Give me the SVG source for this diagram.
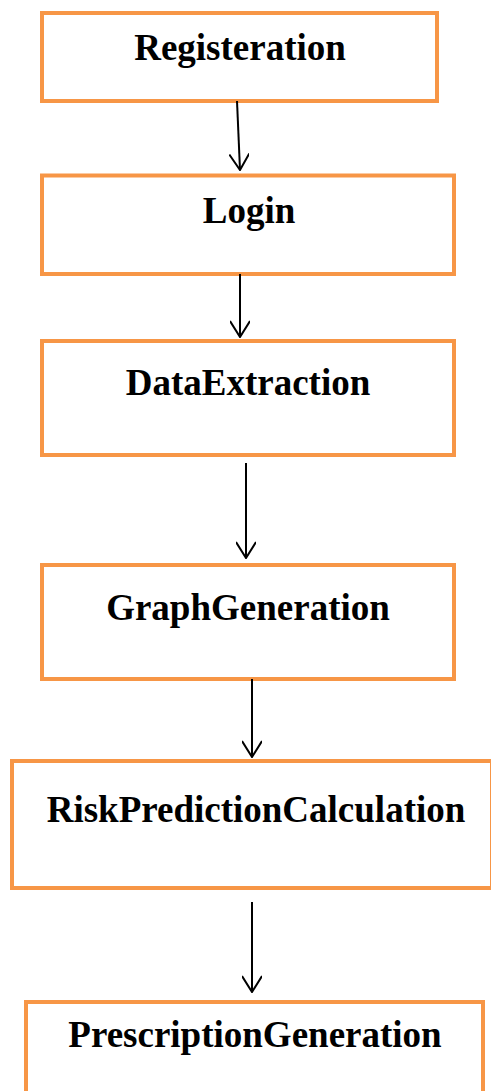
<svg xmlns="http://www.w3.org/2000/svg" width="491" height="1091" viewBox="0 0 491 1091">
<style>
.box{fill:#fff;stroke:#F79646;stroke-width:4}
.lbl{font-family:"Liberation Serif","Times New Roman",serif;font-weight:bold;font-size:37px;fill:#000;text-anchor:middle}
.con{stroke:#000;stroke-width:2;fill:none}
</style>
<defs>
<marker id="arr" viewBox="0 0 18 20" refX="17" refY="10" markerWidth="18" markerHeight="20" markerUnits="userSpaceOnUse" orient="auto">
<path d="M1,0 L17,10 L1,20" fill="none" stroke="#000" stroke-width="2"/>
</marker>
</defs>
<rect width="491" height="1091" fill="#fff"/>
<g id="n1"><rect class="box" x="42" y="13" width="395" height="88"/><text class="lbl" x="240" y="60">Registeration</text></g>
<g id="n2"><rect class="box" x="42" y="175.5" width="412" height="98.5"/><text class="lbl" x="249" y="223">Login</text></g>
<g id="n3"><rect class="box" x="42" y="341" width="412" height="114"/><text class="lbl" x="248" y="395">DataExtraction</text></g>
<g id="n4"><rect class="box" x="42" y="565" width="412" height="114"/><text class="lbl" x="248" y="620">GraphGeneration</text></g>
<g id="n5"><rect class="box" x="12" y="761" width="480" height="127"/><text class="lbl" x="256" y="822">RiskPredictionCalculation</text></g>
<g id="n6"><rect class="box" x="26" y="1002" width="457" height="100"/><text class="lbl" x="255" y="1047">PrescriptionGeneration</text></g>
<g id="connectors">
<path class="con" marker-end="url(#arr)" d="M237,101 L240,170"/>
<path class="con" marker-end="url(#arr)" d="M240,274 L240,337"/>
<path class="con" marker-end="url(#arr)" d="M246,463 L246,558"/>
<path class="con" marker-end="url(#arr)" d="M252,679 L252,757"/>
<path class="con" marker-end="url(#arr)" d="M252,902 L252,992"/>
</g>
</svg>
